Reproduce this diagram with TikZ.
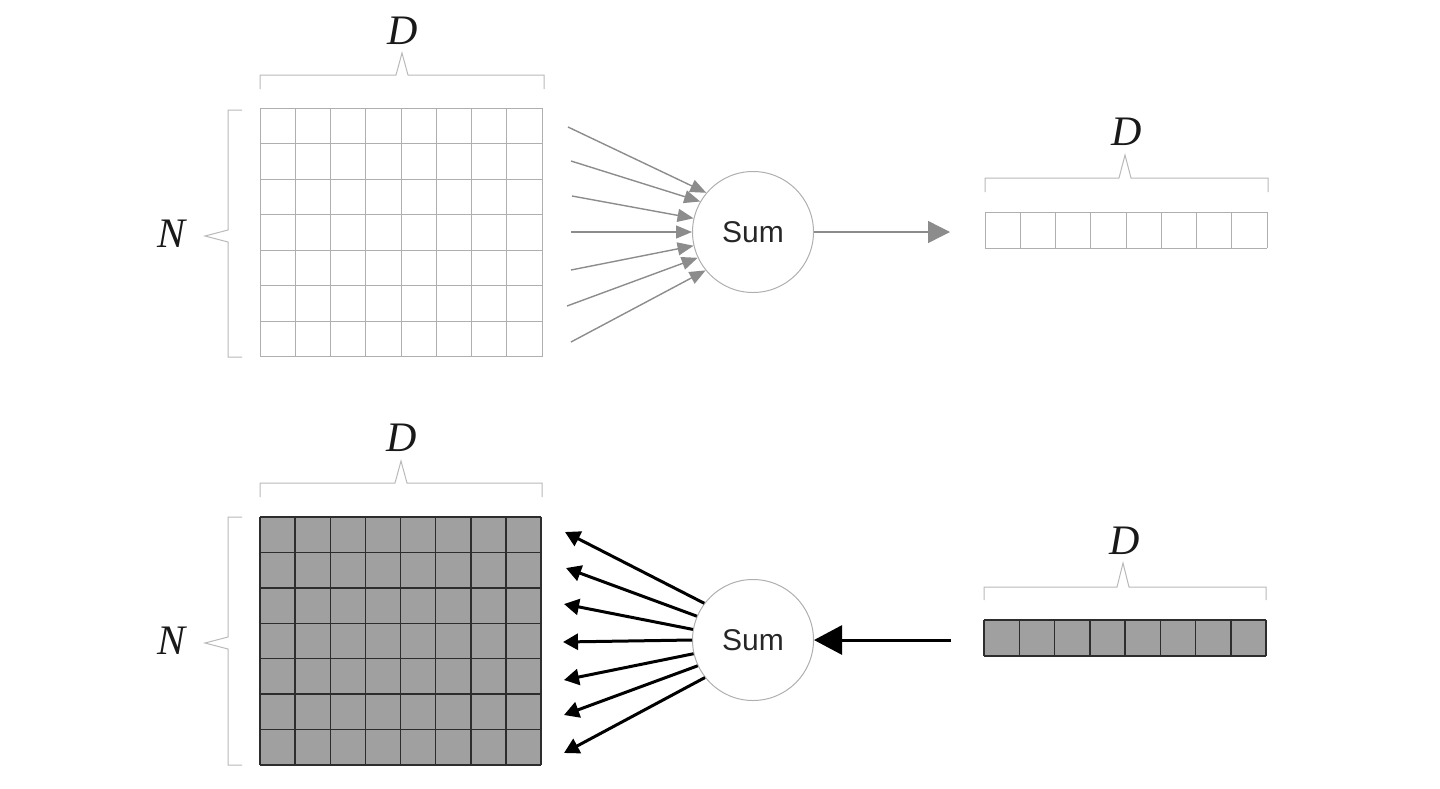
\documentclass[tikz,border=0pt]{standalone}
\usepackage{fontspec}
\setsansfont{Liberation Sans}
\newfontfamily\lblfont{Liberation Serif}
\usetikzlibrary{arrows.meta}
\definecolor{lightln}{RGB}{175,175,175}
\definecolor{braceln}{RGB}{185,185,185}
\definecolor{arrgray}{RGB}{140,140,140}
\definecolor{cellfill}{RGB}{160,160,160}
\definecolor{darkln}{RGB}{45,45,45}
\begin{document}
\begin{tikzpicture}[x=1pt,y=-1pt,
  bracestyle/.style={draw=braceln,line width=1pt},
  lbl/.style={font=\lblfont\itshape\fontsize{42}{46}\selectfont,inner sep=0pt,text=black!90},
  sumnode/.style={circle,draw=lightln,line width=1pt,minimum size=121pt,inner sep=0pt,text=black!85,font=\sffamily\fontsize{30}{34}\selectfont},
  inarrow/.style={draw=arrgray,line width=1.4pt,-{Triangle[length=16pt,width=13pt]}},
  outarrow/.style={draw=black,line width=3pt,-{Triangle[length=15pt,width=16pt]}},
  gridlight/.style={draw=lightln,line width=1pt},
  griddark/.style={draw=darkln,line width=1.5pt}
]
\useasboundingbox (0,0) rectangle (1440,788);

% ---------- TOP ----------
% matrix
\foreach \i in {0,...,8} { \draw[gridlight] ({260+\i*35.25},108) -- ({260+\i*35.25},357); }
\foreach \j in {0,...,7} { \draw[gridlight] (260,{108+\j*35.57}) -- (542,{108+\j*35.57}); }
% braces
\draw[bracestyle] (260,89) -- (260,75) -- (396,75) -- (402,53) -- (408,75) -- (544,75) -- (544,89);
\node[lbl] (Dt) at (403,31) {D};
\draw[bracestyle] (242,110) -- (228,110) -- (228,230) -- (205,236) -- (228,242) -- (228,357) -- (242,357);
\node[lbl] (Nt) at (172,234) {N};
% sum
\node[sumnode] (sumt) at (753,232) {Sum};
\coordinate (t1) at (568,127);
\coordinate (t2) at (571,161);
\coordinate (t3) at (572,196);
\coordinate (t4) at (571,232);
\coordinate (t5) at (571,270);
\coordinate (t6) at (567,306);
\coordinate (t7) at (571,342);
\draw[inarrow] (t1) -- (sumt.140);
\draw[inarrow] (t2) -- (sumt.150);
\draw[inarrow] (t3) -- (sumt.167);
\draw[inarrow] (t4) -- (sumt.180);
\draw[inarrow] (t5) -- (sumt.193);
\draw[inarrow] (t6) -- (sumt.205);
\draw[inarrow] (t7) -- (sumt.219);
\coordinate (tout) at (950,232);
\draw[draw=arrgray,line width=1.4pt,-{Triangle[length=22pt,width=22pt]}] (sumt.east) -- (tout);
% vector
\foreach \i in {0,...,8} { \draw[gridlight] ({985+\i*35.25},212) -- ({985+\i*35.25},248); }
\draw[gridlight] (985,212) -- (1267,212);
\draw[gridlight] (985,248) -- (1267,248);
\draw[bracestyle] (985,192) -- (985,178) -- (1119,178) -- (1125,155) -- (1131,178) -- (1268,178) -- (1268,192);
\node[lbl] (Dtr) at (1127,132) {D};

% ---------- BOTTOM ----------
\fill[cellfill] (260,517) rectangle (541,765);
\foreach \i in {0,...,8} { \draw[griddark] ({260+\i*35.125},517) -- ({260+\i*35.125},765); }
\foreach \j in {0,...,7} { \draw[griddark] (260,{517+\j*35.43}) -- (541,{517+\j*35.43}); }
\draw[bracestyle] (260,497) -- (260,483) -- (395,483) -- (401,461) -- (407,483) -- (542,483) -- (542,497);
\node[lbl] (Db) at (402,438) {D};
\draw[bracestyle] (242,517) -- (228,517) -- (228,637) -- (205,643) -- (228,649) -- (228,765) -- (242,765);
\node[lbl] (Nb) at (172,641) {N};
\node[sumnode] (sumb) at (753,640) {Sum};
\coordinate (b1) at (565,532);
\coordinate (b2) at (566,568);
\coordinate (b3) at (564,604);
\coordinate (b4) at (563,642);
\coordinate (b5) at (564,680);
\coordinate (b6) at (564,715);
\coordinate (b7) at (564,753);
\draw[outarrow] (sumb.143) -- (b1);
\draw[outarrow] (sumb.157) -- (b2);
\draw[outarrow] (sumb.170) -- (b3);
\draw[outarrow] (sumb.180) -- (b4);
\draw[outarrow] (sumb.193) -- (b5);
\draw[outarrow] (sumb.205) -- (b6);
\draw[outarrow] (sumb.218) -- (b7);
\coordinate (bin) at (951,640);
\draw[draw=black,line width=3pt,-{Triangle[length=28pt,width=29pt]}] (bin) -- (sumb.east);
% vector
\fill[cellfill] (984,620) rectangle (1266,656);
\foreach \i in {0,...,8} { \draw[griddark] ({984+\i*35.25},620) -- ({984+\i*35.25},656); }
\draw[griddark] (984,620) -- (1266,620);
\draw[griddark] (984,656) -- (1266,656);
\draw[bracestyle] (984,600) -- (984,587) -- (1117,587) -- (1123,563) -- (1129,587) -- (1266,587) -- (1266,600);
\node[lbl] (Dbr) at (1125,541) {D};
\end{tikzpicture}
\end{document}
